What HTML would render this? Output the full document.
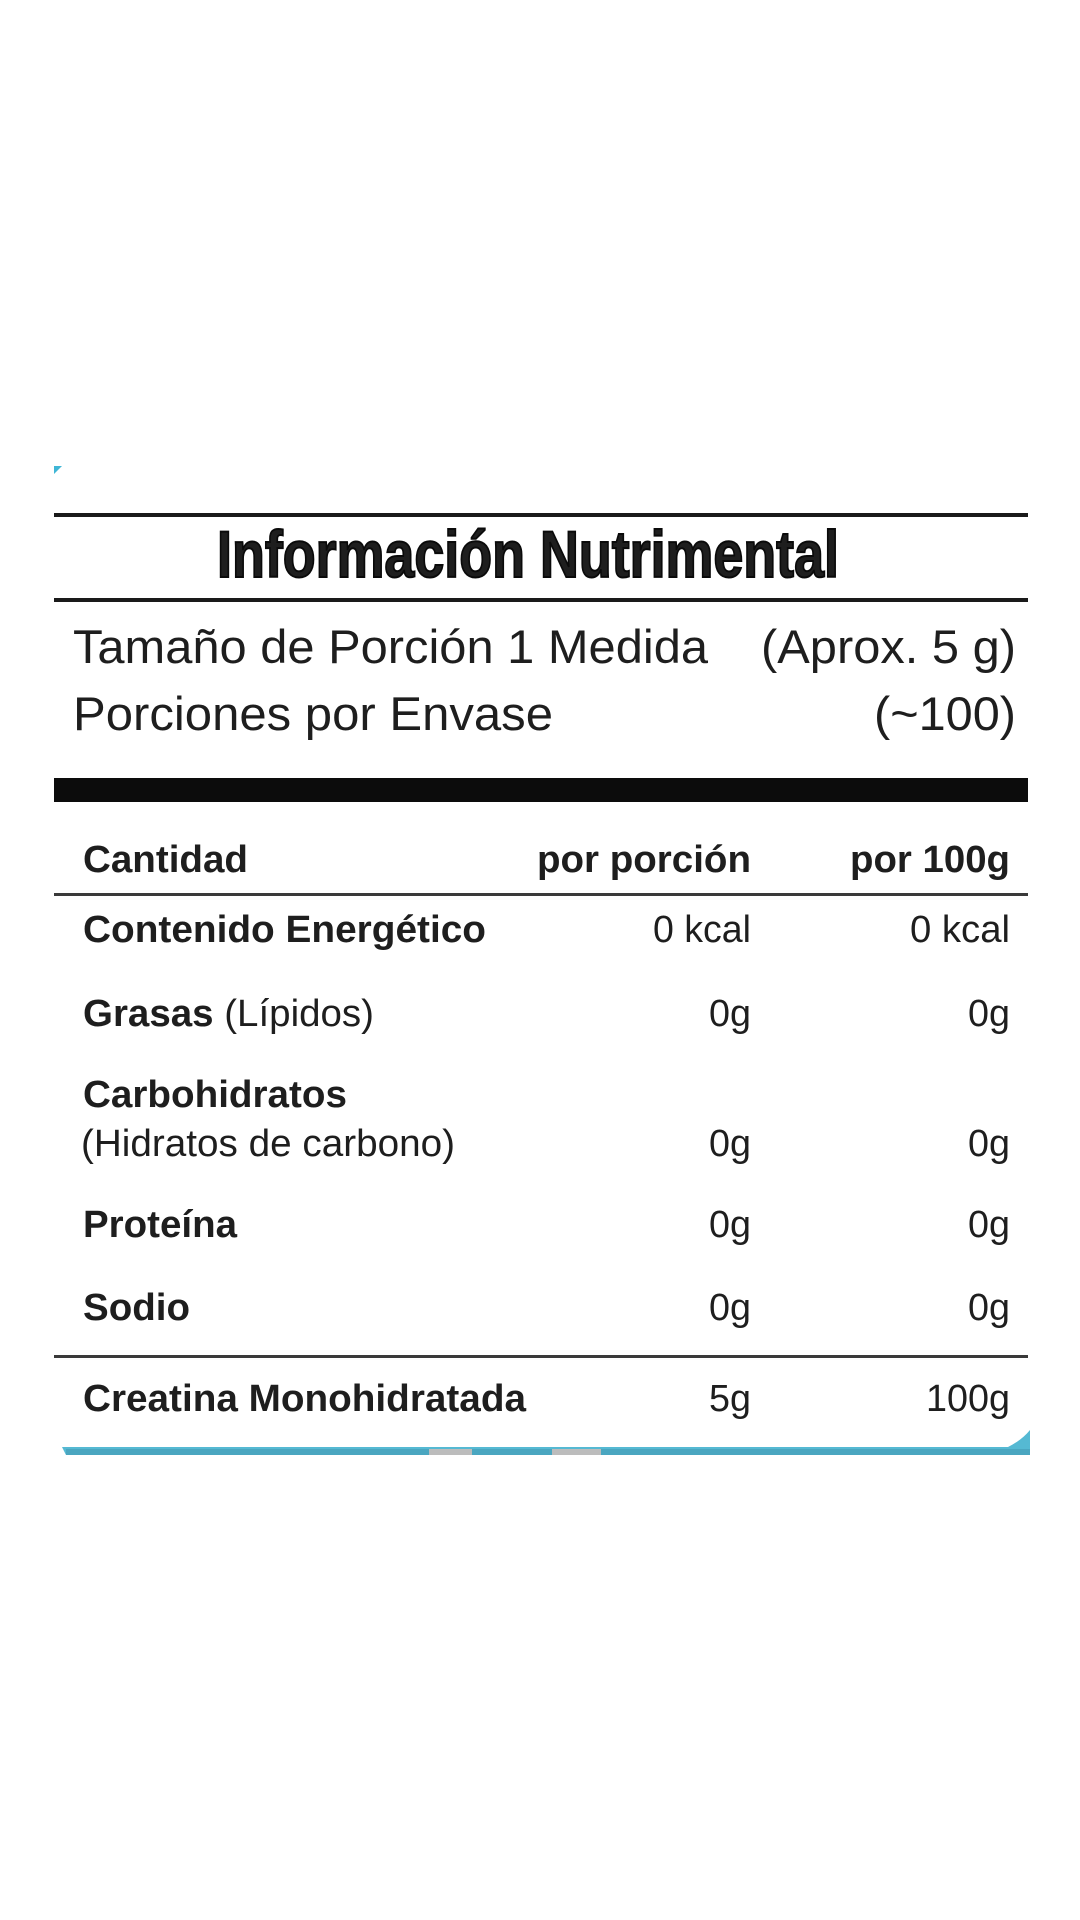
<!DOCTYPE html>
<html><head><meta charset="utf-8"><style>
html,body{margin:0;padding:0;background:#fff;}
svg{display:block;}
text{font-family:"Liberation Sans",Arial,sans-serif;fill:#1e1e1e;}
.b{font-weight:bold;}
</style></head><body>
<svg width="1080" height="1920" viewBox="0 0 1080 1920" xmlns="http://www.w3.org/2000/svg">
<rect width="1080" height="1920" fill="#fff"/>
<polygon points="54,466 62,466 54,474" fill="#3fb6d6"/>
<rect x="54" y="513" width="974" height="4" fill="#1a1a1a"/>
<text x="217" y="577" class="b" font-size="66" textLength="622" lengthAdjust="spacingAndGlyphs" fill="#0a0a0a" stroke="#0a0a0a" stroke-width="2">Información Nutrimental</text>
<rect x="54" y="598" width="974" height="4" fill="#1a1a1a"/>
<text x="73" y="663" font-size="47" textLength="635" lengthAdjust="spacingAndGlyphs">Tamaño de Porción 1 Medida</text>
<text x="1016" y="663" font-size="47" text-anchor="end" textLength="255" lengthAdjust="spacingAndGlyphs">(Aprox. 5 g)</text>
<text x="73" y="730" font-size="47" textLength="480" lengthAdjust="spacingAndGlyphs">Porciones por Envase</text>
<text x="1016" y="730" font-size="47" text-anchor="end" textLength="142" lengthAdjust="spacingAndGlyphs">(~100)</text>
<rect x="54" y="778" width="974" height="24" fill="#0c0c0c"/>
<g font-size="38">
<text x="83" y="872" class="b" textLength="165" lengthAdjust="spacingAndGlyphs">Cantidad</text>
<text x="751" y="872" class="b" text-anchor="end" textLength="214" lengthAdjust="spacingAndGlyphs">por porción</text>
<text x="1010" y="872" class="b" text-anchor="end" textLength="160" lengthAdjust="spacingAndGlyphs">por 100g</text>
</g>
<rect x="54" y="893" width="974" height="3" fill="#3a3a3a"/>
<g font-size="38">
<text x="83" y="942" class="b" textLength="403" lengthAdjust="spacingAndGlyphs">Contenido Energético</text>
<text x="751" y="942" text-anchor="end" textLength="98" lengthAdjust="spacingAndGlyphs">0 kcal</text>
<text x="1010" y="942" text-anchor="end" textLength="100" lengthAdjust="spacingAndGlyphs">0 kcal</text>

<text x="83" y="1026" textLength="291" lengthAdjust="spacingAndGlyphs"><tspan class="b">Grasas</tspan> (Lípidos)</text>
<text x="751" y="1026" text-anchor="end" textLength="42" lengthAdjust="spacingAndGlyphs">0g</text>
<text x="1010" y="1026" text-anchor="end" textLength="42" lengthAdjust="spacingAndGlyphs">0g</text>

<text x="83" y="1107" class="b" textLength="264" lengthAdjust="spacingAndGlyphs">Carbohidratos</text>
<text x="81" y="1156" textLength="374" lengthAdjust="spacingAndGlyphs">(Hidratos de carbono)</text>
<text x="751" y="1156" text-anchor="end" textLength="42" lengthAdjust="spacingAndGlyphs">0g</text>
<text x="1010" y="1156" text-anchor="end" textLength="42" lengthAdjust="spacingAndGlyphs">0g</text>

<text x="83" y="1237" class="b" textLength="154" lengthAdjust="spacingAndGlyphs">Proteína</text>
<text x="751" y="1237" text-anchor="end" textLength="42" lengthAdjust="spacingAndGlyphs">0g</text>
<text x="1010" y="1237" text-anchor="end" textLength="42" lengthAdjust="spacingAndGlyphs">0g</text>

<text x="83" y="1320" class="b" textLength="107" lengthAdjust="spacingAndGlyphs">Sodio</text>
<text x="751" y="1320" text-anchor="end" textLength="42" lengthAdjust="spacingAndGlyphs">0g</text>
<text x="1010" y="1320" text-anchor="end" textLength="42" lengthAdjust="spacingAndGlyphs">0g</text>
</g>
<rect x="54" y="1355" width="974" height="3" fill="#3a3a3a"/>
<g font-size="38">
<text x="83" y="1411" class="b" textLength="443" lengthAdjust="spacingAndGlyphs">Creatina Monohidratada</text>
<text x="751" y="1411" text-anchor="end" textLength="42" lengthAdjust="spacingAndGlyphs">5g</text>
<text x="1010" y="1411" text-anchor="end" textLength="84" lengthAdjust="spacingAndGlyphs">100g</text>
</g>
<path d="M62,1447 L1008,1447 Q1022,1440 1030,1430 L1030,1455 L66,1455 Z" fill="#55b9d3"/>
<rect x="66" y="1449" width="964" height="6" fill="#4aa6c0"/>
<rect x="429" y="1449" width="43" height="6" fill="#bcbcbc"/>
<rect x="552" y="1449" width="49" height="6" fill="#bcbcbc"/>
</svg>
</body></html>
